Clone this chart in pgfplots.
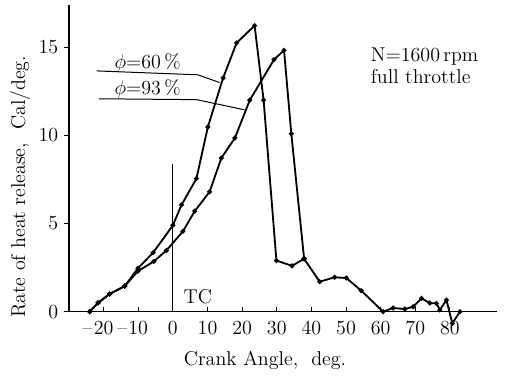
\documentclass[border=0pt]{standalone}
\usepackage{pgfplots}
\pgfplotsset{compat=1.18}
\begin{document}
\begin{tikzpicture}[font=\fontsize{12}{14}\selectfont]
\path[use as bounding box] (-41.4pt,-41pt) rectangle (262.8pt,187pt);
\begin{axis}[
  scale only axis,
  width=256.8pt, height=184pt,
  xmin=-30, xmax=93.6, ymin=0, ymax=17.4,
  axis x line=bottom, axis y line=left,
  axis line style={-, line width=0.8pt},
  xtick={-20,-10,0,10,20,30,40,50,60,70,80},
  xticklabels={\llap{\textendash\kern0.8pt}20,\llap{\textendash\kern0.8pt}10,0,10,20,30,40,50,60,70,80},
  ytick={0,5,10,15},
  xtick align=inside, ytick align=outside,
  major tick length=3pt,
  tick style={line width=0.6pt, black},
  xticklabel style={yshift=-2pt},
  clip=false,
  xlabel={Crank Angle,\ \ deg.},
  ylabel={Rate of heat release,\ \ Cal/deg.},
  xlabel style={at={(axis description cs:0.458,-0.158)}, anchor=center},
  ylabel style={at={(axis description cs:-0.114,0.407)}, anchor=center},
]
% phi = 60 %
\addplot[black, line width=1.1pt, mark=*, mark size=0.85pt] coordinates {
(-24,0) (-21.6,0.5) (-18.3,1.0) (-13.9,1.45) (-10.1,2.46) (-5.7,3.35) (0,4.9)
(2.5,6.06) (6.8,7.55) (10.1,10.48) (14.5,13.26) (18.4,15.25) (23.6,16.23)
(26.2,12.0) (29.9,2.9) (34.4,2.6) (37.9,3.0)
};
% phi = 93 %
\addplot[black, line width=1.1pt, mark=*, mark size=0.85pt] coordinates {
(-24,0) (-21.6,0.5) (-18.3,1.0) (-13.9,1.45) (-10.1,2.3) (-5.5,2.85) (-1.9,3.47)
(2.9,4.56) (6.3,5.7) (10.6,6.8) (14.0,8.72) (17.9,9.85) (22.2,12.0) (29.2,14.3)
(32.1,14.83) (34.2,10.1) (37.9,3.0)
};
% common tail
\addplot[black, line width=1.1pt, mark=*, mark size=0.85pt] coordinates {
(37.9,3.0) (42.4,1.7) (46.7,1.95) (50.1,1.91) (54.4,1.19) (60.7,0) (63.6,0.21)
(67,0.15) (69.4,0.28) (71.8,0.76) (74.2,0.49) (76.1,0.47) (77.1,0.1) (79,0.66)
(80.7,-0.66) (82.9,0)
};
% TC line
\addplot[black, line width=0.6pt] coordinates {(0,0) (0,8.4)};
% leader lines
\addplot[black, line width=0.6pt] coordinates {(-22.0,13.66) (7.2,13.44) (13.5,13.0)};
\addplot[black, line width=0.6pt] coordinates {(-21.4,12.08) (6.9,12.03) (20.7,11.45)};
\node[anchor=west] at (axis cs:1.4,0.84) {TC};
\node at (axis cs:-7.3,14.1) {$\phi$=60\,\%};
\node at (axis cs:-7.3,12.65) {$\phi$=93\,\%};
\node[anchor=west] at (axis cs:55.5,14.47) {N=1600\,rpm};
\node[anchor=west] at (axis cs:55.5,13.33) {full throttle};
\end{axis}
\end{tikzpicture}
\end{document}
